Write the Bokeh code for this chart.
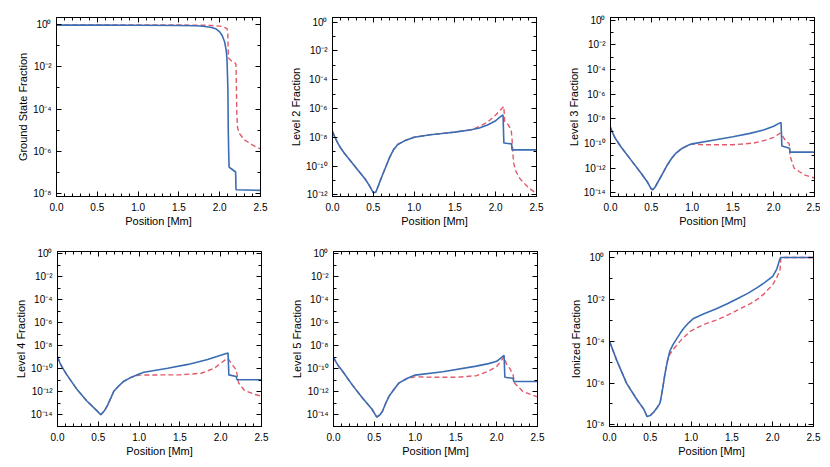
import numpy as np
from bokeh.plotting import figure
from bokeh.layouts import column, row
from bokeh.models import (Range1d, FixedTicker, CustomJSTickFormatter, LinearAxis,
                          LogAxis, PrintfTickFormatter)
from bokeh.embed import file_html
from bokeh.resources import INLINE

FONT = "Liberation Sans"
BLUE = "#3a6db3"
RED = "#e05a6b"

# ---------------- data (log10 of fraction) ----------------
# Ground state
gs_x_blue = [0.0, 0.5, 1.0, 1.5, 1.7, 1.8, 1.9, 1.95, 2.0, 2.03, 2.06, 2.08, 2.09, 2.10, 2.105, 2.11, 2.115, 2.15, 2.195, 2.20, 2.50]
gs_blue = [-0.03, -0.03, -0.035, -0.045, -0.06, -0.085, -0.14, -0.2, -0.35, -0.52, -0.82, -1.22, -1.7, -3.0, -5.0, -6.0, -6.75, -6.85, -6.98, -7.82, -7.85]
gs_x_red = [0.0, 1.5, 1.8, 1.9, 2.0, 2.05, 2.09, 2.10, 2.105, 2.11, 2.15, 2.19, 2.20, 2.205, 2.21, 2.22, 2.24, 2.3, 2.4, 2.5]
gs_red = [-0.02, -0.025, -0.035, -0.05, -0.08, -0.12, -0.2, -0.5, -1.4, -1.6, -1.75, -1.82, -1.9, -3.0, -4.3, -4.9, -5.15, -5.45, -5.7, -5.89]

# Level 2
l2_x_common = [0.0, 0.03, 0.06, 0.1, 0.15, 0.2, 0.3, 0.4, 0.45, 0.5, 0.53, 0.56, 0.6, 0.65, 0.7, 0.75, 0.8, 0.9, 1.0, 1.2, 1.4, 1.5, 1.7]
l2_common = [-7.6, -8.0, -8.35, -8.75, -9.15, -9.5, -10.2, -10.9, -11.35, -11.85, -11.82, -11.4, -10.8, -10.1, -9.4, -8.85, -8.5, -8.2, -8.0, -7.82, -7.7, -7.64, -7.48]
l2_x_blue = [1.8, 1.9, 2.0, 2.05, 2.09, 2.10, 2.15, 2.195, 2.20, 2.50]
l2_blue = [-7.35, -7.15, -6.85, -6.6, -6.45, -8.4, -8.43, -8.46, -8.88, -8.88]
l2_x_red = [1.8, 1.9, 2.0, 2.05, 2.10, 2.11, 2.15, 2.19, 2.20, 2.21, 2.22, 2.25, 2.3, 2.4, 2.5]
l2_red = [-7.25, -6.95, -6.45, -6.15, -5.85, -6.9, -7.1, -7.5, -8.1, -9.1, -9.8, -10.4, -10.9, -11.5, -11.92]

# Level 3
l3_x_common = [0.0, 0.03, 0.06, 0.125, 0.25, 0.375, 0.45, 0.5, 0.52, 0.55, 0.6, 0.65, 0.7, 0.75, 0.8, 0.875, 0.95, 1.0]
l3_common = [-8.7, -9.2, -9.6, -10.24, -11.33, -12.41, -13.1, -13.7, -13.75, -13.5, -12.9, -12.3, -11.7, -11.2, -10.8, -10.4, -10.15, -10.03]
l3_x_blue = [1.29, 1.5, 1.71, 1.875, 2.0, 2.07, 2.09, 2.10, 2.195, 2.20, 2.50]
l3_blue = [-9.7, -9.45, -9.18, -8.9, -8.6, -8.35, -8.3, -10.2, -10.38, -10.7, -10.7]
l3_x_red = [1.125, 1.5, 1.75, 1.92, 2.0, 2.08, 2.1, 2.15, 2.19, 2.2, 2.25, 2.375, 2.5]
l3_red = [-10.1, -10.1, -9.97, -9.7, -9.5, -9.16, -9.3, -9.84, -10.0, -11.0, -12.0, -12.55, -12.8]

# Level 4
l4_x_common = [0.0, 0.03, 0.06, 0.115, 0.24, 0.36, 0.485, 0.53, 0.57, 0.61, 0.65, 0.69, 0.75, 0.81, 0.9]
l4_common = [-8.96, -9.5, -9.9, -10.53, -11.81, -12.8, -13.66, -14.0, -13.7, -13.23, -12.6, -11.95, -11.5, -11.1, -10.75]
l4_x_blue = [1.0, 1.06, 1.35, 1.6, 1.84, 2.0, 2.09, 2.10, 2.19, 2.20, 2.50]
l4_blue = [-10.45, -10.3, -9.96, -9.62, -9.19, -8.82, -8.62, -10.53, -10.67, -10.96, -10.96]
l4_x_red = [1.0, 1.3, 1.5, 1.76, 1.92, 2.05, 2.09, 2.13, 2.19, 2.22, 2.29, 2.42, 2.5]
l4_red = [-10.55, -10.53, -10.53, -10.39, -9.96, -9.25, -9.1, -9.53, -10.1, -11.24, -11.87, -12.24, -12.38]

# Level 5
l5_x_common = [0.0, 0.03, 0.06, 0.1, 0.23, 0.35, 0.47, 0.53, 0.57, 0.6, 0.64, 0.68, 0.74, 0.8, 0.9]
l5_common = [-9.0, -9.4, -9.75, -10.1, -11.4, -12.5, -13.5, -14.2, -14.0, -13.7, -13.0, -12.4, -11.8, -11.25, -10.85]
l5_x_blue = [1.0, 1.34, 1.75, 1.9, 2.0, 2.09, 2.10, 2.20, 2.21, 2.50]
l5_blue = [-10.55, -10.26, -9.77, -9.55, -9.35, -8.83, -10.74, -10.83, -11.1, -11.1]
l5_x_red = [1.0, 1.2, 1.5, 1.75, 1.9, 2.0, 2.09, 2.12, 2.16, 2.2, 2.22, 2.32, 2.5]
l5_red = [-10.7, -10.74, -10.74, -10.6, -10.2, -9.8, -8.97, -9.6, -9.97, -10.5, -11.25, -11.97, -12.45]

# Ionized
io_x_common = [0.0, 0.09, 0.21, 0.335, 0.42, 0.46, 0.5, 0.54, 0.58, 0.62, 0.65, 0.68, 0.71]
io_common = [-4.0, -4.93, -6.02, -6.79, -7.25, -7.6, -7.55, -7.4, -7.2, -6.95, -6.3, -5.55, -4.95]
io_x_blue = [0.74, 0.78, 0.83, 0.87, 0.91, 0.97, 1.03, 1.15, 1.31, 1.45, 1.56, 1.7, 1.81, 1.9, 2.0, 2.05, 2.09, 2.1, 2.5]
io_blue = [-4.47, -4.15, -3.84, -3.6, -3.38, -3.12, -2.91, -2.7, -2.45, -2.2, -1.98, -1.7, -1.44, -1.2, -0.9, -0.55, -0.05, 0.0, 0.0]
io_x_red = [0.74, 0.79, 0.83, 0.9, 0.99, 1.1, 1.19, 1.3, 1.4, 1.56, 1.72, 1.82, 1.89, 2.0, 2.05, 2.09, 2.1, 2.5]
io_red = [-4.62, -4.35, -4.16, -3.85, -3.53, -3.3, -3.15, -3.0, -2.84, -2.53, -2.22, -1.98, -1.75, -1.3, -0.95, -0.6, 0.0, 0.0]

x_ticks = [0.0, 0.5, 1.0, 1.5, 2.0, 2.5]
x_minor = [0.1, 0.2, 0.3, 0.4, 0.6, 0.7, 0.8, 0.9, 1.1, 1.2, 1.3, 1.4, 1.6, 1.7, 1.8, 1.9, 2.1, 2.2, 2.3, 2.4]

SUP_JS = r"""
const m = {"0":"\u2070","1":"\u00b9","2":"\u00b2","3":"\u00b3","4":"\u2074","5":"\u2075","6":"\u2076","7":"\u2077","8":"\u2078","9":"\u2079","-":"\u207b"};
const e = Math.round(Math.log10(tick));
return "10" + String(e).split("").map(c => m[c]).join("");
"""

FW = 204


def style_axis(ax):
    ax.major_tick_in = 5
    ax.major_tick_out = 0
    ax.minor_tick_in = 3
    ax.minor_tick_out = 0
    ax.axis_line_color = "black"
    ax.major_tick_line_color = "black"
    ax.minor_tick_line_color = "black"
    ax.major_label_text_font = FONT
    ax.major_label_text_font_size = "10px"
    ax.major_label_text_color = "black"
    ax.axis_label_text_font = FONT
    ax.axis_label_text_font_size = "11px"
    ax.axis_label_text_font_style = "normal"
    ax.axis_label_text_color = "black"


def panel(xc, yc, xb, yb, xr, yr, ylabel, ylo, yhi, bl, br, bt, bb, fh):
    p = figure(width=bl + FW + br, height=bt + fh + bb, y_axis_type="log",
               x_range=Range1d(0, 2.5), y_range=Range1d(10 ** ylo, 10 ** yhi),
               output_backend="svg", toolbar_location=None,
               min_border_left=bl, min_border_right=br, min_border_top=bt,
               min_border_bottom=bb)
    p.grid.visible = False
    p.outline_line_color = "black"
    p.outline_line_width = 1
    p.background_fill_color = "white"
    p.border_fill_color = "white"

    decs = list(range(0, int(np.floor(ylo)) - 1, -1))
    yt = [10.0 ** d for d in decs if d % 2 == 0]
    ym = [10.0 ** d for d in decs if d % 2 != 0]
    yticker = FixedTicker(ticks=yt, minor_ticks=ym)
    xticker = FixedTicker(ticks=x_ticks, minor_ticks=x_minor)

    p.yaxis.ticker = yticker
    p.yaxis.formatter = CustomJSTickFormatter(code=SUP_JS)
    p.yaxis.axis_label = ylabel
    p.yaxis.major_label_standoff = 5
    p.yaxis.axis_label_standoff = 1
    p.xaxis.ticker = xticker
    p.xaxis.formatter = PrintfTickFormatter(format="%.1f")
    p.xaxis.axis_label = "Position [Mm]"
    p.xaxis.major_label_standoff = 6
    p.xaxis.axis_label_standoff = 1
    style_axis(p.yaxis[0])
    style_axis(p.xaxis[0])

    top = LinearAxis(ticker=xticker, formatter=CustomJSTickFormatter(code="return ''"),
                     major_label_standoff=0)
    right = LogAxis(ticker=yticker, formatter=CustomJSTickFormatter(code="return ''"),
                    major_label_standoff=0)
    style_axis(top)
    style_axis(right)
    p.add_layout(top, "above")
    p.add_layout(right, "right")

    xs_b = list(xc) + list(xb)
    ys_b = [10.0 ** v for v in list(yc) + list(yb)]
    xs_r = list(xc) + list(xr)
    ys_r = [10.0 ** v for v in list(yc) + list(yr)]
    p.line(xs_r, ys_r, line_color=RED, line_width=1.4, line_dash="5 3")
    p.line(xs_b, ys_b, line_color=BLUE, line_width=1.6)
    return p


TOP_BT, TOP_BB, TOP_FH = 17, 36, 179
BOT_BT, BOT_BB, BOT_FH = 19, 28, 180

p1 = panel([], [], gs_x_blue, gs_blue, gs_x_red, gs_red, "Ground State Fraction",
           -8.14, 0.33, 56, 12, TOP_BT, TOP_BB, TOP_FH)
p2 = panel(l2_x_common, l2_common, l2_x_blue, l2_blue, l2_x_red, l2_red, "Level 2 Fraction",
           -12.12, 0.33, 60, 10, TOP_BT, TOP_BB, TOP_FH)
p3 = panel(l3_x_common, l3_common, l3_x_blue, l3_blue, l3_x_red, l3_red, "Level 3 Fraction",
           -14.3, 0.22, 64, 6, TOP_BT, TOP_BB, TOP_FH)
p4 = panel(l4_x_common, l4_common, l4_x_blue, l4_blue, l4_x_red, l4_red, "Level 4 Fraction",
           -15.02, 0.2, 57, 12, BOT_BT, BOT_BB, BOT_FH)
p5 = panel(l5_x_common, l5_common, l5_x_blue, l5_blue, l5_x_red, l5_red, "Level 5 Fraction",
           -15.02, 0.2, 60, 10, BOT_BT, BOT_BB, BOT_FH)
p6 = panel(io_x_common, io_common, io_x_blue, io_blue, io_x_red, io_red, "Ionized Fraction",
           -8.08, 0.29, 62, 8, BOT_BT, BOT_BB, BOT_FH)

layout = column(row(p1, p2, p3, spacing=0), row(p4, p5, p6, spacing=0), spacing=0)

with open("out.html", "w", encoding="utf-8") as f:
    f.write(file_html(layout, INLINE))
